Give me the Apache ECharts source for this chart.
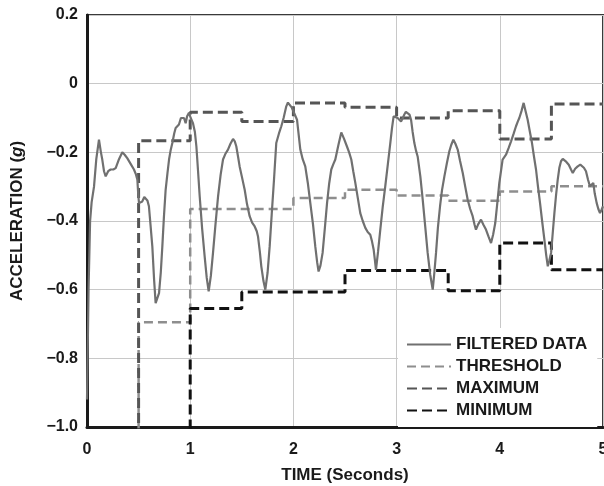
<!DOCTYPE html>
<html>
<head>
<meta charset="utf-8">
<script src="https://cdn.jsdelivr.net/npm/echarts@6/dist/echarts.min.js"></script>
<style>
html,body{margin:0;padding:0;background:#fff;}
#chart{width:604px;height:486px;}
</style>
</head>
<body>
<div id="chart"></div>
<script>
// ---- data ----
var filteredTime = [0.000,0.015,0.030,0.045,0.068,0.090,0.116,0.135,0.148,0.165,0.181,0.205,0.229,0.255,0.278,0.310,0.342,0.365,0.390,0.420,0.455,0.475,0.488,0.496,0.504,0.520,0.536,0.555,0.568,0.585,0.600,0.615,0.633,0.650,0.665,0.680,0.698,0.715,0.730,0.745,0.762,0.780,0.795,0.810,0.827,0.845,0.859,0.875,0.891,0.910,0.924,0.940,0.956,0.970,0.988,1.005,1.027,1.045,1.060,1.075,1.092,1.115,1.140,1.160,1.179,1.200,1.221,1.245,1.270,1.295,1.318,1.340,1.366,1.390,1.415,1.432,1.447,1.465,1.479,1.500,1.528,1.550,1.576,1.600,1.625,1.645,1.657,1.675,1.689,1.710,1.728,1.750,1.770,1.790,1.812,1.834,1.860,1.883,1.905,1.931,1.947,1.963,1.985,2.000,2.035,2.067,2.090,2.115,2.140,2.164,2.190,2.212,2.230,2.244,2.262,2.283,2.305,2.326,2.347,2.367,2.386,2.406,2.435,2.464,2.490,2.519,2.540,2.561,2.580,2.600,2.625,2.648,2.672,2.697,2.720,2.745,2.762,2.778,2.790,2.800,2.820,2.842,2.865,2.890,2.915,2.939,2.955,2.971,2.990,3.010,3.043,3.060,3.075,3.090,3.107,3.125,3.140,3.155,3.172,3.188,3.204,3.230,3.253,3.277,3.301,3.325,3.350,3.366,3.382,3.400,3.421,3.440,3.463,3.487,3.511,3.530,3.550,3.570,3.592,3.615,3.641,3.665,3.689,3.713,3.737,3.755,3.769,3.790,3.818,3.840,3.866,3.890,3.915,3.935,3.956,3.975,3.995,4.027,4.060,4.085,4.109,4.135,4.157,4.175,4.189,4.210,4.231,4.250,4.270,4.290,4.312,4.330,4.351,4.370,4.390,4.410,4.432,4.450,4.465,4.480,4.497,4.513,4.529,4.545,4.561,4.577,4.593,4.610,4.626,4.645,4.668,4.690,4.707,4.730,4.755,4.780,4.797,4.815,4.835,4.855,4.874,4.890,4.906,4.920,4.939,4.955,4.971,4.985,5.000];
var filteredAccel = [-0.92,-0.60,-0.40,-0.345,-0.30,-0.22,-0.163,-0.20,-0.221,-0.255,-0.27,-0.255,-0.25,-0.25,-0.246,-0.22,-0.20,-0.207,-0.217,-0.232,-0.25,-0.265,-0.28,-0.32,-0.348,-0.345,-0.343,-0.33,-0.328,-0.34,-0.357,-0.41,-0.474,-0.57,-0.639,-0.64,-0.61,-0.55,-0.474,-0.39,-0.309,-0.26,-0.221,-0.195,-0.173,-0.145,-0.129,-0.125,-0.119,-0.10,-0.095,-0.10,-0.115,-0.095,-0.085,-0.10,-0.115,-0.14,-0.183,-0.25,-0.328,-0.42,-0.503,-0.565,-0.605,-0.56,-0.493,-0.41,-0.328,-0.265,-0.221,-0.205,-0.192,-0.175,-0.161,-0.168,-0.183,-0.215,-0.241,-0.27,-0.309,-0.35,-0.386,-0.405,-0.416,-0.43,-0.445,-0.49,-0.532,-0.575,-0.60,-0.55,-0.474,-0.38,-0.28,-0.173,-0.145,-0.124,-0.10,-0.066,-0.055,-0.056,-0.07,-0.075,-0.105,-0.192,-0.22,-0.241,-0.29,-0.348,-0.41,-0.474,-0.52,-0.547,-0.53,-0.493,-0.42,-0.348,-0.29,-0.25,-0.235,-0.221,-0.18,-0.142,-0.16,-0.183,-0.20,-0.221,-0.255,-0.289,-0.335,-0.377,-0.40,-0.42,-0.432,-0.44,-0.46,-0.484,-0.515,-0.542,-0.49,-0.425,-0.36,-0.299,-0.235,-0.173,-0.13,-0.095,-0.09,-0.10,-0.11,-0.10,-0.09,-0.082,-0.081,-0.09,-0.105,-0.14,-0.173,-0.195,-0.212,-0.27,-0.338,-0.415,-0.493,-0.555,-0.60,-0.55,-0.493,-0.42,-0.357,-0.31,-0.27,-0.232,-0.197,-0.178,-0.163,-0.175,-0.192,-0.225,-0.26,-0.30,-0.338,-0.365,-0.386,-0.41,-0.425,-0.41,-0.396,-0.41,-0.425,-0.445,-0.464,-0.44,-0.406,-0.35,-0.29,-0.221,-0.207,-0.188,-0.168,-0.145,-0.124,-0.11,-0.10,-0.08,-0.056,-0.08,-0.105,-0.138,-0.173,-0.21,-0.25,-0.30,-0.348,-0.40,-0.454,-0.50,-0.532,-0.515,-0.493,-0.435,-0.377,-0.325,-0.28,-0.245,-0.226,-0.219,-0.219,-0.228,-0.236,-0.25,-0.26,-0.248,-0.241,-0.236,-0.238,-0.245,-0.255,-0.28,-0.299,-0.295,-0.289,-0.32,-0.348,-0.365,-0.377,-0.368,-0.357];

// step series: value held from each time to the next (values below -1.0 lie off the chart)
var stepTime  = [0, 0.5, 1.0, 1.5, 2.0, 2.5, 3.0, 3.5, 4.0, 4.5, 5.0];
var threshold = [-1.1, -0.695, -0.365, -0.365, -0.333, -0.309, -0.326, -0.341, -0.314, -0.299, -0.299];
var maximum   = [-1.1, -0.166, -0.083, -0.110, -0.056, -0.069, -0.100, -0.079, -0.161, -0.059, -0.059];
var minimum   = [-1.1, -1.1, -0.655, -0.607, -0.607, -0.544, -0.544, -0.603, -0.464, -0.542, -0.542];

var seriesNames = ['FILTERED DATA', 'THRESHOLD', 'MAXIMUM', 'MINIMUM'];
var xTickLabels = ['0', '1', '2', '3', '4', '5'];
var yTickValues = [0.2, 0, -0.2, -0.4, -0.6, -0.8, -1.0];
var yTickLabels = ['0.2', '0', '\u22120.2', '\u22120.4', '\u22120.6', '\u22120.8', '\u22121.0'];

function pairs(xs, ys) { return xs.map(function (x, i) { return [x, ys[i]]; }); }

var FONT = '"Liberation Sans", Arial, Helvetica, sans-serif';

var chart = echarts.init(document.getElementById('chart'), null, { renderer: 'canvas' });
chart.setOption({
  backgroundColor: '#ffffff',
  animation: false,
  grid: {
    left: 87, right: 1, top: 15, bottom: 59, containLabel: false, outerBoundsMode: 'none',
    show: true, borderColor: '#3a3a3a', borderWidth: 2, backgroundColor: 'transparent'
  },
  xAxis: {
    type: 'value', min: 0, max: 5, interval: 1,
    name: 'TIME (Seconds)', nameLocation: 'middle', nameGap: 40,
    nameTextStyle: { fontFamily: FONT, fontWeight: 'bold', fontSize: 17, color: '#1a1a1a' },
    axisLine: { show: true, onZero: false, lineStyle: { color: '#1a1a1a', width: 3 } },
    axisTick: { show: false },
    axisLabel: {
      margin: 15, fontFamily: FONT, fontWeight: 'bold', fontSize: 16, color: '#1a1a1a',
      formatter: function (v) { var i = Math.round(v); return xTickLabels[i] !== undefined ? xTickLabels[i] : ''; }
    },
    splitLine: { show: true, lineStyle: { color: '#c8c8c8', width: 1 } }
  },
  yAxis: {
    type: 'value', min: -1.0, max: 0.2, interval: 0.2,
    name: 'ACCELERATION ({i|g})', nameLocation: 'middle', nameGap: 61, nameRotate: 90,
    nameTextStyle: {
      fontFamily: FONT, fontWeight: 'bold', fontSize: 17, color: '#1a1a1a',
      rich: { i: { fontFamily: FONT, fontWeight: 'bold', fontStyle: 'italic', fontSize: 17, color: '#1a1a1a' } }
    },
    axisLine: { show: true, onZero: false, lineStyle: { color: '#1a1a1a', width: 3 } },
    axisTick: { show: false },
    axisLabel: {
      margin: 9, fontFamily: FONT, fontWeight: 'bold', fontSize: 16, color: '#1a1a1a',
      formatter: function (v) {
        for (var i = 0; i < yTickValues.length; i++) { if (Math.abs(yTickValues[i] - v) < 1e-6) return yTickLabels[i]; }
        return '';
      }
    },
    splitLine: { show: true, lineStyle: { color: '#c8c8c8', width: 1 } }
  },
  legend: {
    orient: 'vertical', left: 398, top: 328,
    padding: [8, 10, 8, 8],
    backgroundColor: '#ffffff',
    itemWidth: 44, itemHeight: 14, itemGap: 5,
    itemStyle: { opacity: 0, borderWidth: 0 },
    data: seriesNames,
    textStyle: { fontFamily: FONT, fontWeight: 'bold', fontSize: 17, color: '#1a1a1a' }
  },
  series: [
    {
      name: seriesNames[0], type: 'line', symbol: 'none', clip: true, z: 3,
      data: pairs(filteredTime, filteredAccel),
      lineStyle: { color: '#707070', width: 2.2, type: 'solid' },
      itemStyle: { color: '#707070' }
    },
    {
      name: seriesNames[1], type: 'line', symbol: 'none', step: 'end', clip: true, z: 2,
      data: pairs(stepTime, threshold),
      lineStyle: { color: '#8e8e8e', width: 2.5, type: [9, 5] },
      itemStyle: { color: '#8e8e8e' }
    },
    {
      name: seriesNames[2], type: 'line', symbol: 'none', step: 'end', clip: true, z: 2,
      data: pairs(stepTime, maximum),
      lineStyle: { color: '#555555', width: 3, type: [10, 5] },
      itemStyle: { color: '#555555' }
    },
    {
      name: seriesNames[3], type: 'line', symbol: 'none', step: 'end', clip: true, z: 2,
      data: pairs(stepTime, minimum),
      lineStyle: { color: '#111111', width: 3, type: [10, 5] },
      itemStyle: { color: '#111111' }
    }
  ]
});
</script>
</body>
</html>
